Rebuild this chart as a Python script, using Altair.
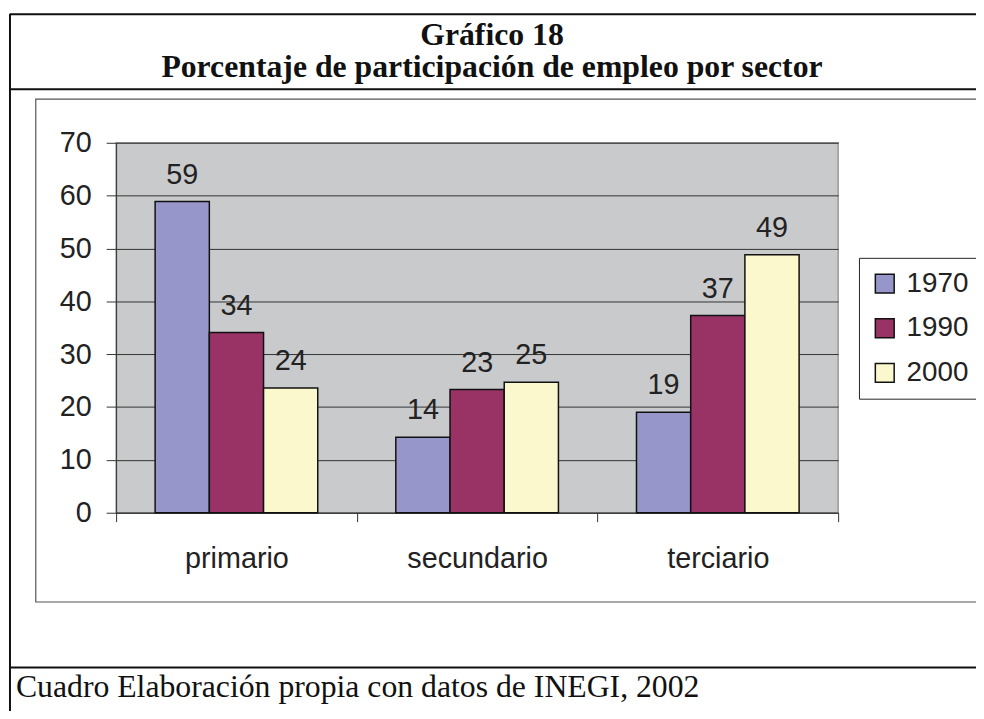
import altair as alt
import pandas as pd

# ---- data ----
sectores = ["primario", "secundario", "terciario"]
anios = ["1970", "1990", "2000"]
v1970 = [58.9, 14.3, 19.0]
v1990 = [34.1, 23.3, 37.3]
v2000 = [23.6, 24.7, 48.8]
colores = ["#9696CA", "#993366", "#FCF8CE"]
titulo1 = "Gráfico 18"
titulo2 = "Porcentaje de participación de empleo por sector"
fuente = "Cuadro Elaboración propia con datos de INEGI, 2002"
y_ticks = [0, 10, 20, 30, 40, 50, 60, 70]

rows = []
for anio, vals in zip(anios, [v1970, v1990, v2000]):
    for s, v in zip(sectores, vals):
        rows.append({"sector": s, "anio": anio, "valor": v})
df = pd.DataFrame(rows)

W, H = 728, 373

x_enc = alt.X(
    "sector:N",
    sort=sectores,
    scale=alt.Scale(paddingInner=0, paddingOuter=0),
    axis=alt.Axis(
        title=None, labelAngle=0, tickBand="extent", tickSize=9,
        domainColor="#333333", tickColor="#333333", grid=False,
        labelFont="Liberation Sans", labelFontSize=29, labelColor="#222222",
        labelPadding=46, labelBaseline="alphabetic",
    ),
)
xoff_enc = alt.XOffset(
    "anio:N", sort=anios, scale=alt.Scale(paddingInner=0, paddingOuter=0.72)
)
y_enc = alt.Y(
    "valor:Q",
    scale=alt.Scale(domain=[0, 70], nice=False),
    axis=alt.Axis(
        title=None, values=y_ticks, grid=True, gridColor="#333333", gridWidth=1,
        domainColor="#333333", tickColor="#333333", tickSize=10,
        labelFont="Liberation Sans", labelFontSize=29, labelColor="#222222",
        labelPadding=15,
    ),
)

bars = alt.Chart(df).mark_bar(stroke="#111111", strokeWidth=1.5).encode(
    x=x_enc,
    xOffset=xoff_enc,
    y=y_enc,
    color=alt.Color(
        "anio:N",
        sort=anios,
        scale=alt.Scale(domain=anios, range=colores),
        legend=alt.Legend(
            title=None, orient="none", legendX=749, legendY=116,
            direction="vertical", fillColor="white", strokeColor="#222222",
            padding=12, symbolType="square", symbolSize=361,
            symbolStrokeColor="#111111", symbolStrokeWidth=1.5,
            symbolOpacity=1, labelFont="Liberation Sans", labelFontSize=28,
            labelColor="#222222", labelOffset=8, rowPadding=17,
        ),
    ),
)

labels = alt.Chart(df).mark_text(
    font="Liberation Sans", fontSize=29, color="#222222",
    baseline="alphabetic", dy=-18,
).encode(
    x=alt.X("sector:N", sort=sectores,
            scale=alt.Scale(paddingInner=0, paddingOuter=0)),
    xOffset=xoff_enc,
    y=alt.Y("valor:Q", scale=alt.Scale(domain=[0, 70], nice=False)),
    text=alt.Text("valor:Q", format=".0f"),
)

one = pd.DataFrame({"k": [0]})

def hline(y, x1, x2, color="#111111", w=2):
    return alt.Chart(one).mark_rule(color=color, strokeWidth=w).encode(
        x=alt.value(x1), x2=alt.value(x2), y=alt.value(y))

def vline(x, y1, y2, color="#111111", w=2):
    return alt.Chart(one).mark_rule(color=color, strokeWidth=w).encode(
        x=alt.value(x), y=alt.value(y1), y2=alt.value(y2))

frame = [
    vline(-107, -130, 575),
    hline(-129.5, -107, 880),
    hline(-54, -107, 880),
    hline(529, -107, 880),
]
inner_box = alt.Chart(one).mark_rect(
    fillOpacity=0, stroke="#555555", strokeWidth=1.2
).encode(x=alt.value(-81), x2=alt.value(900), y=alt.value(-44), y2=alt.value(463))

t1 = alt.Chart(one).mark_text(
    text=titulo1, font="Liberation Serif", fontWeight="bold", fontSize=32,
    color="#111111", align="center", baseline="alphabetic",
).encode(x=alt.value(379), y=alt.value(-99))
t2 = alt.Chart(one).mark_text(
    text=titulo2, font="Liberation Serif", fontWeight="bold", fontSize=32,
    color="#111111", align="center", baseline="alphabetic",
).encode(x=alt.value(379), y=alt.value(-66))
foot = alt.Chart(one).mark_text(
    text=fuente, font="Liberation Serif", fontSize=32,
    color="#111111", align="left", baseline="alphabetic",
).encode(x=alt.value(-101), y=alt.value(559))

chart = alt.layer(
    inner_box, *frame, t1, t2, foot, bars, labels
).properties(
    width=W, height=H,
    autosize=alt.AutoSizeParams(type="none"),
    padding={"left": 109, "top": 133, "right": 139, "bottom": 197},
    background="white",
).configure_view(
    fill="#C9CACC", stroke="#999999", strokeWidth=1.5
)

chart.save("out.html", embed_options={"renderer": "svg", "actions": False})
